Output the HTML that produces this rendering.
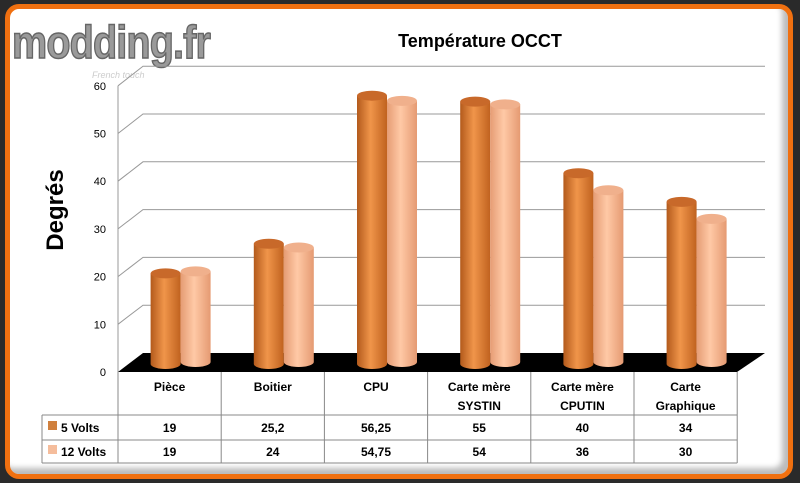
<!DOCTYPE html>
<html><head><meta charset="utf-8"><style>
body{margin:0;width:800px;height:483px;background:#2a2a2a;overflow:hidden;font-family:"Liberation Sans",sans-serif}
#frame{position:absolute;left:5px;top:4px;width:778px;height:465px;border:5px solid #f07010;border-radius:14px;background:#fff;box-shadow:inset -6px -6px 6px #bbb}
svg{position:absolute;left:0;top:0}
</style></head><body>
<div id="frame"></div>
<svg width="800" height="483" id="chart">
<defs>
<linearGradient id="g5" x1="0" x2="1"><stop offset="0" stop-color="#b35a1c"/><stop offset="0.45" stop-color="#f0954a"/><stop offset="1" stop-color="#c0621f"/></linearGradient>
<linearGradient id="g12" x1="0" x2="1"><stop offset="0" stop-color="#e59c74"/><stop offset="0.45" stop-color="#ffc9a6"/><stop offset="1" stop-color="#e59a72"/></linearGradient>
</defs>
<text x="12" y="58" font-size="46" font-weight="bold" fill="#9a9a9a" stroke="#666" stroke-width="1.5" letter-spacing="-1" textLength="198" lengthAdjust="spacingAndGlyphs">modding.fr</text>
<text x="92" y="78" font-size="9" font-style="italic" fill="#ccc">French touch</text>
<text x="480" y="47" font-size="18" font-weight="bold" text-anchor="middle">Température OCCT</text>
<text transform="translate(63,210) rotate(-90)" font-size="24" font-weight="bold" text-anchor="middle">Degrés</text>
<g id="grid"></g><g id="bars"></g><g id="table"></g>
</svg>
<script>
const categories=[["Pièce"],["Boitier"],["CPU"],["Carte mère","SYSTIN"],["Carte mère","CPUTIN"],["Carte","Graphique"]];
const volts5=[19,25.2,56.25,55,40,34];
const volts12=[19,24,54.75,54,36,30];
const labels5=["19","25,2","56,25","55","40","34"];
const labels12=["19","24","54,75","54","36","30"];
const ticks=[0,10,20,30,40,50,60];
const NS="http://www.w3.org/2000/svg";
function mk(t,a,p){const e=document.createElementNS(NS,t);for(const k in a)e.setAttribute(k,a[k]);p.appendChild(e);return e;}
const fy=v=>372-v*4.77, by=v=>353-v*4.78, barY=v=>364-v*4.77;
const x0=118,cw=103.2;
const grid=document.getElementById('grid');
ticks.forEach(t=>{
 if(t>0){const l=mk('polyline',{points:`${x0},${fy(t)} ${x0+25},${by(t)} 765,${by(t)}`,fill:'none',stroke:'#999','stroke-width':1},grid);
 }
 const tx=mk('text',{x:106,y:fy(t)+4,'font-size':11,'text-anchor':'end'},grid);tx.textContent=t;
 
});
const ax=mk('line',{x1:x0,y1:fy(60),x2:x0,y2:372,stroke:'#999'},grid);

const floor=mk('polygon',{points:`${x0},372 ${x0+25},353 765,353 737,372`,fill:'#000'},grid);

const bars=document.getElementById('bars');
function cyl(cx,v,base,fill,name){
 const r=15,ry=5,top=barY(v)+(base-364);
 const g=mk('g',{},bars);
 mk('path',{d:`M${cx-r},${top} L${cx-r},${base} A${r},${ry} 0 0 0 ${cx+r},${base} L${cx+r},${top} Z`,fill:`url(#${fill})`},g);
 mk('ellipse',{cx:cx,cy:top,rx:r,ry:ry,fill:fill=='g5'?'#c8692a':'#f0b08c'},g);
}
categories.forEach((c,i)=>{
 const cx=x0+cw*(i+0.5)+10;
 cyl(cx-14,volts5[i],364,'g5','bar-5v');
 cyl(cx+16,volts12[i],362,'g12','bar-12v');
});
const tb=document.getElementById('table');
function ln(a,b,c,d){const l=mk('line',{x1:a,y1:b,x2:c,y2:d,stroke:'#888'},tb);}
const xr=x0+cw*6;
ln(x0,372,x0,463);ln(42,415,xr,415);ln(42,440,xr,440);ln(42,463,xr,463);ln(42,415,42,463);ln(xr,372,xr,463);
for(let i=1;i<6;i++)ln(x0+cw*i,372,x0+cw*i,463);
function txt(x,y,s,n,anchor){const t=mk('text',{x:x,y:y,'font-size':12,'font-weight':'bold','text-anchor':anchor||'middle'},tb);t.textContent=s;}
categories.forEach((c,i)=>{
 const cx=x0+cw*(i+0.5);
 if(c.length==1)txt(cx,391,c[0],'category-label');else{txt(cx,391,c[0],'category-label');txt(cx,410,c[1],'category-label');}
 txt(cx,432,labels5[i],'value-5v');txt(cx,456,labels12[i],'value-12v');
});
const s1=mk('rect',{x:48,y:421,width:9,height:9,fill:'#d0803e'},tb);
const s2=mk('rect',{x:48,y:445,width:9,height:9,fill:'#f5bd9c'},tb);
txt(61,432,'5 Volts','legend-entry-5v','start');txt(61,456,'12 Volts','legend-entry-12v','start');
</script>
</body></html>
